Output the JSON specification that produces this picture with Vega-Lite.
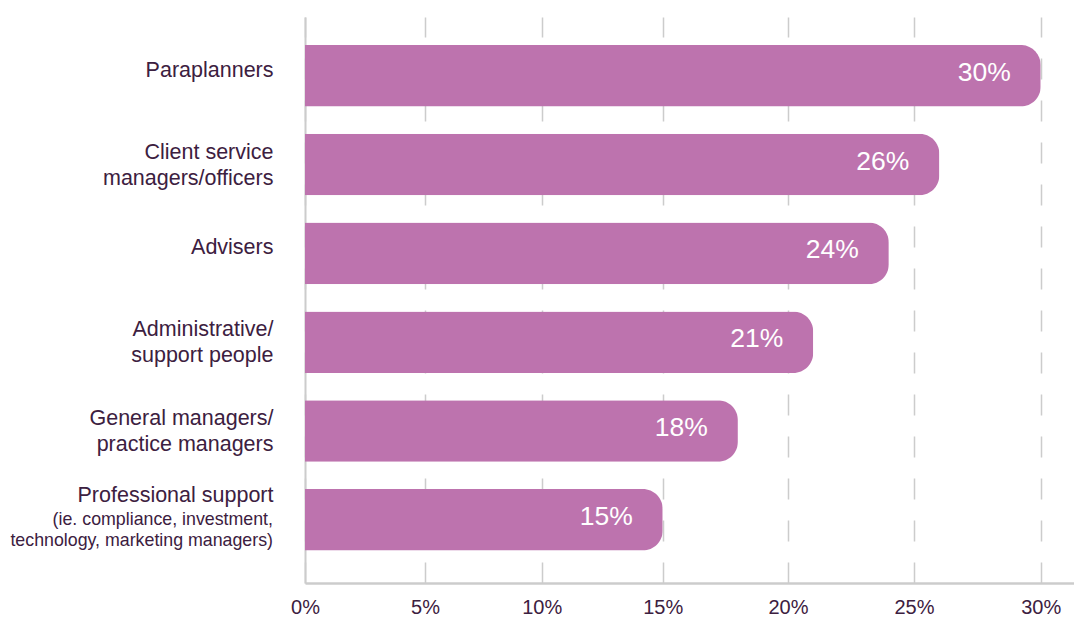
{
  "$schema": "https://vega.github.io/schema/vega-lite/v6.json",
  "width": 769,
  "height": 566,
  "autosize": "none",
  "padding": {"left": 305, "top": 17, "right": 0, "bottom": 34},
  "background": "white",
  "config": {"view": {"stroke": null}, "font": "Liberation Sans"},
  "data": {
    "values": [
      {"label": "Paraplanners", "share": 0.30, "note": ""},
      {"label": "Client service|managers/officers", "share": 0.26, "note": ""},
      {"label": "Advisers", "share": 0.24, "note": ""},
      {"label": "Administrative/|support people", "share": 0.21, "note": ""},
      {"label": "General managers/|practice managers", "share": 0.18, "note": ""},
      {"label": "Professional support", "share": 0.15, "note": "(ie. compliance, investment,|technology, marketing managers)"}
    ]
  },
  "encoding": {
    "y": {
      "field": "label",
      "type": "nominal",
      "sort": null,
      "scale": {"paddingInner": 0.307, "paddingOuter": 0.34, "align": 0.463},
      "axis": {
        "title": null,
        "labelExpr": "split(datum.label, '|')",
        "labelFontSize": 21.5,
        "labelLineHeight": 26,
        "labelColor": "#3c2040",
        "labelPadding": 32,
        "labelLimit": 400,
        "labelOffset": {
          "condition": [
            {"test": "datum.value == 'Professional support'", "value": -24},
            {"test": "indexof(datum.value, '|') >= 0", "value": -12}
          ],
          "value": -5
        },
        "ticks": false,
        "domainColor": "#cccccc",
        "domainWidth": 2
      }
    }
  },
  "layer": [
    {
      "mark": {"type": "bar", "color": "#bd73ae", "cornerRadiusEnd": 20},
      "encoding": {
        "x": {
          "field": "share",
          "type": "quantitative",
          "scale": {
            "domain": [0, 0.05, 0.1, 0.15, 0.2, 0.25, 0.3, 0.3135],
            "range": [0, 120, 236.7, 357.7, 483, 609, 735.7, 769],
            "nice": false
          },
          "axis": {
            "title": null,
            "values": [0, 0.05, 0.1, 0.15, 0.2, 0.25, 0.3],
            "format": ".0%",
            "grid": true,
            "gridColor": "#cccccc",
            "gridDash": [21, 21],
            "gridWidth": 1.5,
            "ticks": false,
            "labelFlush": false,
            "labelPadding": 14,
            "labelFontSize": 20,
            "labelColor": "#3c2040",
            "domainColor": "#cccccc",
            "domainWidth": 2.5
          }
        }
      }
    },
    {
      "mark": {"type": "text", "align": "right", "baseline": "middle", "dx": -30, "dy": -3, "fontSize": 26.5, "color": "white"},
      "encoding": {
        "x": {"field": "share", "type": "quantitative"},
        "text": {"field": "share", "type": "quantitative", "format": ".0%"}
      }
    },
    {
      "transform": [{"filter": "datum.note != ''"}],
      "mark": {"type": "text", "align": "right", "baseline": "middle", "dx": -32, "dy": 0, "fontSize": 17.8, "lineHeight": 21, "lineBreak": "|", "color": "#3c2040"},
      "encoding": {
        "x": {"datum": 0, "type": "quantitative"},
        "text": {"field": "note"}
      }
    }
  ]
}
